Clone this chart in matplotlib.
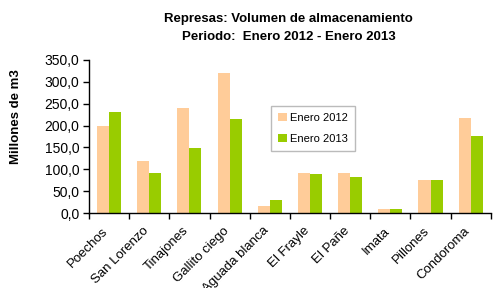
import numpy as np
import matplotlib.pyplot as plt
import matplotlib.transforms as mtransforms
from matplotlib.ticker import FuncFormatter

represas = ['Poechos', 'San Lorenzo', 'Tinajones', 'Gallito ciego', 'Aguada blanca',
            'El Frayle', 'El Pañe', 'Imata', 'Pillones', 'Condoroma']
enero_2012 = [199, 119, 240, 320, 16, 91.5, 91.5, 9, 75.5, 217]
enero_2013 = [231, 91.5, 149, 215, 30, 89, 82, 9, 75.5, 176]

plt.rcParams['font.family'] = ['Liberation Sans', 'DejaVu Sans']

fig = plt.figure(figsize=(4.93, 2.88), dpi=100)
ax = fig.add_axes([0.1805, 0.26, 0.815, 0.532])

x = np.arange(len(represas))
w = 0.3
ax.bar(x - w / 2, enero_2012, w, color='#ffcc99', label='Enero 2012')
ax.bar(x + w / 2, enero_2013, w, color='#99cc00', label='Enero 2013')

ax.set_xlim(-0.5, len(represas) - 0.5)
ax.set_ylim(0, 350)
ax.set_yticks(np.arange(0, 351, 50))
ax.yaxis.set_major_formatter(FuncFormatter(lambda v, p: f'{v:.1f}'.replace('.', ',')))
ax.set_xticks(np.arange(-0.5, len(represas), 1))
ax.set_xticklabels([])
ax.set_xticks(x, minor=True)
ax.set_xticklabels(represas, minor=True, rotation=45, ha='right', rotation_mode='anchor', fontsize=9.5)
ax.tick_params(axis='x', which='minor', length=0, pad=7)
ax.tick_params(axis='x', which='major', direction='out', length=4, width=1)
ax.tick_params(axis='y', direction='out', length=4, width=1, labelsize=10, pad=3)

# nudge category labels a bit to the left
shift = mtransforms.ScaledTranslation(-7 / 100, -2 / 100, fig.dpi_scale_trans)
for lbl in ax.get_xticklabels(minor=True):
    lbl.set_transform(lbl.get_transform() + shift)

for s in ['top', 'right']:
    ax.spines[s].set_visible(False)
ax.spines['left'].set_linewidth(1)
ax.spines['bottom'].set_linewidth(1)

ax.set_ylabel('Millones de m3', fontsize=9.5, fontweight='bold')
ax.yaxis.set_label_coords(-0.167, 0.627)

fig.text(0.585, 0.935, 'Represas: Volumen de almacenamiento', ha='center', va='center',
         fontsize=9.5, fontweight='bold')
fig.text(0.585, 0.87, 'Periodo:  Enero 2012 - Enero 2013', ha='center', va='center',
         fontsize=9.5, fontweight='bold')

leg = ax.legend(loc='upper left', bbox_to_anchor=(0.44, 0.735), fontsize=8, frameon=True,
                fancybox=False, edgecolor='#aaaaaa', handlelength=0.8, handleheight=0.8,
                labelspacing=1.0, handletextpad=0.3, borderpad=0.6)
leg.get_frame().set_linewidth(1)

fig.savefig('out.png', dpi=100)
